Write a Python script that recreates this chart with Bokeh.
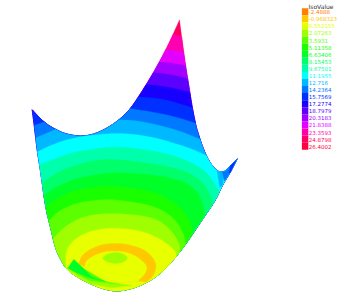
from bokeh.plotting import figure
from bokeh.models import Range1d
from bokeh.core.properties import value
from bokeh.embed import file_html
from bokeh.resources import INLINE

iso_labels = ["-2.4888", "-0.968323", "0.552155", "2.07263", "3.5931", "5.11358", "6.63406",
              "8.15453", "9.67501", "11.1955", "12.716", "14.2364", "15.7569", "17.2774",
              "18.7979", "20.3183", "21.8388", "23.3593", "24.8798", "26.4002"]
iso_colors = ["#ff8000", "#ffc800", "#e8ff00", "#9fff00", "#5cff00", "#1aff00", "#00ff28",
              "#00ff6a", "#00ffac", "#00ffff", "#00b8ff", "#0078ff", "#0030ff", "#1800ff",
              "#5c00ff", "#a000ff", "#e400ff", "#ff00b0", "#ff0060", "#ff0040"]

# silhouette of the surface, clockwise on screen, in three runs between its sharp corners
edge_top = [(31.7,109.3),(43.3,121.7),(55,129),(66.7,134),(81.7,136),(95,133.3),(108.3,126.7),
            (120,118.3),(130,108.3),(140,93.3),(153.3,71.7),(166.7,46.7),(179,19.3)]
edge_right = [(179,19.3),(181.7,40),(185,65),(188.3,85),(191.7,106.7),(195,123.3),(196.7,130),
              (203.3,150),(210,163.3),(216.7,170.7),(221,171.5),(225,170.7),(230,165),(236.7,158.3)]
edge_lower = [(236.7,158.3),(230,171.7),(221.7,185),(215,200),(200,221.7),(183.3,246.7),
              (166.7,266.7),(153.3,278.3),(136.7,286.7),(120,290.7),(108.3,290),(93.3,285),
              (76.7,276.7),(65,268),(58.3,255),(55,248),(50,226.7),(45,206.7),(40,170),(36.7,150),
              (34,127),(31.7,109.3)]

# iso-level boundaries, high level first: (level index, boundary pieces from left to right)
levels = [
    (17, [[(174.3,34),(180.7,37)]]),
    (16, [[(165,49.3),(183.3,51.7)]]),
    (15, [[(158.3,61.7),(171,62.5),(185,65)]]),
    (14, [[(153.3,72.3),(170,74),(186.7,78.3)]]),
    (13, [[(146,84),(168,86.5),(189,91.7)]]),
    (12, [[(137.3,96),(163,98.3),(191.7,107.3)]]),
    (11, [[(34,125),(43.3,121.7)], [(130,108.3),(153.3,111.7),(176.7,116.7),(195,122.7)]]),
    (10, [[(36,137.3),(55,129)], [(119,120),(136.7,120),(160,125),(180,130.7),(199,139)]]),
    (9,  [[(38.3,151),(53.3,143.3),(73.3,137.3),(96.7,134),(116.7,132.7),(136.7,134),(160,138.5),
           (183,145.5),(195,150),(204,156)]]),
]
corner_bands = [
    (10, [(216.7,170.7),(221,171.5),(225,170.7),(221.7,185),(219.3,186.7)]),
    (11, [(221.7,171),(225,170.7),(230,165),(232,164),(228,175),(224,180.5)]),
    (12, [(230,165),(236.7,158.3),(230,171.7),(228.5,173)]),
]
lower_levels = [
    (8, [[(39,164),(51.7,159.3),(68.3,153.3),(81.7,150),(115,145.7),(153.3,150),(180,157.3),
          (193.3,163.3),(206.7,171.7),(216.7,190)]]),
    (7, [[(41.7,182.7),(51.7,175),(68.3,166.7),(91.7,160),(115,158.5),(153.3,163.3),(180,169),
          (190,173),(200,180),(208,190),(211.7,203)]]),
    (6, [[(44.3,195),(55,186.7),(75,178),(101.7,173),(115,172),(153.3,174),(180,180),
          (190,185),(198,193.3),(203,205),(203,215)]]),
    (5, [[(46.7,206.7),(55,198.3),(75,189.3),(101.7,186),(115,185.7),(153.3,190.7),(176.7,203.3),
          (190,220),(191.7,233.3)]]),
    (4, [[(50,220),(58.3,210),(78.3,201.7),(101.7,199),(115,199),(153.3,205),(173.3,216.7),
          (183.3,233.3),(184.3,243.3)]]),
    (3, [[(53.3,238),(65,225),(85,215),(115,212.3),(153.3,216.7),(170,228.3),(180,245),(179.3,253)]]),
    (2, [[(65,268),(65,253.3),(68.3,245),(76.7,236.7),(93.3,229.3),(115,227.3),(140,230),
          (160,238.3),(175,250),(176.7,256.7)]]),
]
# closed patches of the fold and of the ring around the minimum
ring_outer = [(78,263),(82,253.5),(96.7,245),(113,242.5),(130,244),(147,250.5),(156.5,263),
              (153.5,275),(146,281.5)]
ring_inner = [(84,267),(85.5,259.5),(98.3,252.5),(113.3,250),(131,252.5),(144,262),(147,268),
              (143,275.5),(138,279.5)]
fold_line = [(138,280.5),(128,281.5),(118,282),(98.3,275.7),(85,267)]
centre_blob = [(101.7,257.7),(106.7,253.3),(115,251.7),(123.3,253.3),(127.7,257.7),(123.3,261.7),
               (115,263.3),(106.7,261.7)]
fold_bands = [
    (3, [(65.7,267.7),(73.3,259),(83.3,268.3),(105,281),(131.7,285),(111.7,287.3),(88.3,283.3)]),
    (4, [(67.7,267.7),(73.3,259),(83.3,268.3),(105,281),(120,284.3),(88.3,280)]),
    (6, [(67.7,267.7),(73.3,259),(83.3,268.3),(91.7,276.7),(105,281),(91.7,278.3),(75,271.7)]),
]


def smooth(pts, rounds=2):
    """Round a traced polyline; its two end points stay where they are."""
    pts = list(pts)
    for _ in range(rounds):
        out = [pts[0]]
        for a, b in zip(pts[:-1], pts[1:]):
            out.append((0.75 * a[0] + 0.25 * b[0], 0.75 * a[1] + 0.25 * b[1]))
            out.append((0.25 * a[0] + 0.75 * b[0], 0.25 * a[1] + 0.75 * b[1]))
        out.append(pts[-1])
        pts = out
    return pts


outline = smooth(edge_top)[:-1] + smooth(edge_right)[:-1] + smooth(edge_lower)[:-1]


def project(pt):
    """Nearest place on the outline: (segment index, snapped point)."""
    best = None
    n = len(outline)
    for i in range(n):
        ax, ay = outline[i]
        bx, by = outline[(i + 1) % n]
        dx, dy = bx - ax, by - ay
        t = max(0.0, min(1.0, ((pt[0] - ax) * dx + (pt[1] - ay) * dy) / (dx * dx + dy * dy)))
        qx, qy = ax + t * dx, ay + t * dy
        d = (qx - pt[0]) ** 2 + (qy - pt[1]) ** 2
        if best is None or d < best[0]:
            best = (d, i, (qx, qy))
    return best[1], best[2]


def walk(i_from, i_to):
    """Outline vertices going clockwise, after segment i_from, up to the start of segment i_to + 1."""
    n = len(outline)
    pts = []
    j = (i_from + 1) % n
    while True:
        pts.append(outline[j])
        if j == i_to:
            break
        j = (j + 1) % n
    return pts


def region(pieces):
    """Part of the surface below a boundary made of one or more pieces, joined along the outline."""
    pts = []
    snapped = []
    for piece in pieces:
        i_a, a = project(piece[0])
        i_b, b = project(piece[-1])
        snapped.append((i_a, i_b, smooth([a] + list(piece[1:-1]) + [b])))
    for k, (i_a, i_b, line) in enumerate(snapped):
        pts += line
        next_i_a = snapped[(k + 1) % len(snapped)][0]
        pts += walk(i_b, next_i_a)
    return pts


p = figure(width=346, height=299, output_backend="svg", toolbar_location=None,
           x_range=Range1d(0, 346), y_range=Range1d(299, 0),
           x_axis_type=None, y_axis_type=None, min_border=0,
           outline_line_color=None, background_fill_color="white", border_fill_color="white")
p.grid.visible = False


def fill(pts, idx):
    p.patch([q[0] for q in pts], [q[1] for q in pts], fill_color=iso_colors[idx],
            line_color=iso_colors[idx], line_width=0.3)


fill(outline, 18)
for idx, pieces in levels:
    fill(region(pieces), idx)
for idx, pts in corner_bands:
    fill(pts, idx)
for idx, pieces in lower_levels:
    fill(region(pieces), idx)
fill(smooth(ring_outer) + smooth(fold_line), 1)
fill(smooth(ring_inner) + smooth(fold_line), 2)
fill(smooth(centre_blob + centre_blob[:1]), 3)
for idx, pts in fold_bands:
    fill(pts, idx)

# legend
row = 7.08
ys = [11.2 + i * row for i in range(len(iso_labels))]
p.quad(left=301.4, right=307.8, top=[y - row / 2 for y in ys], bottom=[y + row / 2 for y in ys],
       fill_color=iso_colors, line_color=None)
p.text(x=308.3, y=ys, text=iso_labels, text_color=iso_colors, text_font=value("DejaVu Sans"),
       text_font_size="5.5px", text_baseline="middle", text_align="left")
p.text(x=[308], y=[6.3], text=["IsoValue"], text_color="#333333", text_font=value("DejaVu Sans"),
       text_font_size="6px", text_baseline="middle", text_align="left")

open("out.html", "w").write(file_html(p, INLINE))
